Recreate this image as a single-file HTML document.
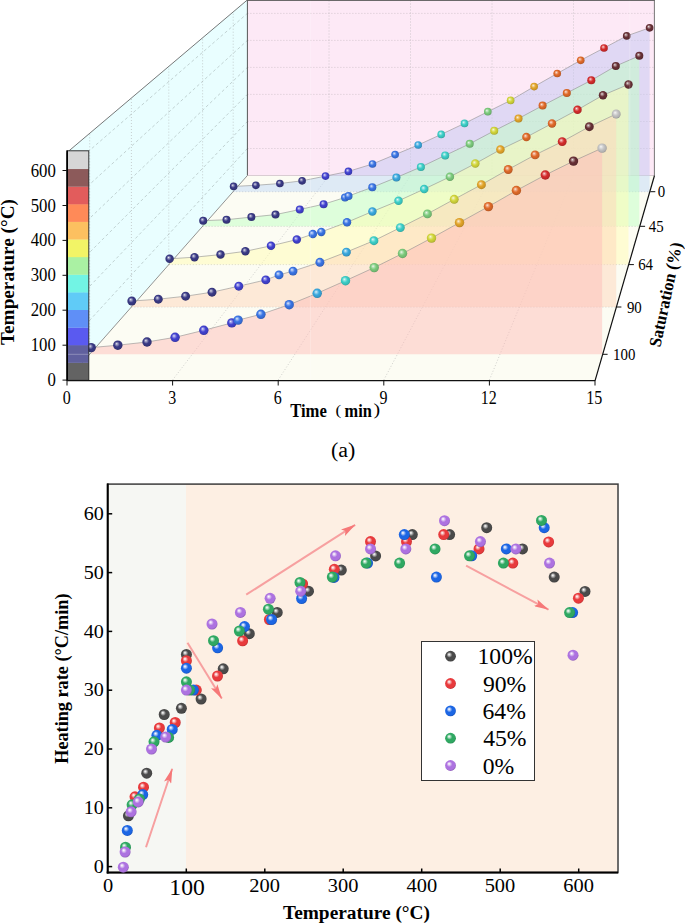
<!DOCTYPE html><html><head><meta charset="utf-8"><style>
html,body{margin:0;padding:0;background:#fff;overflow:hidden;}
svg{display:block;}
text{font-family:"Liberation Serif",serif;fill:#000;}
.b{font-weight:bold;}
</style></head><body>
<svg width="685" height="923" viewBox="0 0 685 923">
<defs>
<radialGradient id="s0" cx="0.47" cy="0.45" r="0.58" fx="0.37" fy="0.34"><stop offset="0" stop-color="#eeeeee"/><stop offset="0.18" stop-color="#a8a8a8"/><stop offset="0.5" stop-color="#505050"/><stop offset="0.82" stop-color="#484848"/><stop offset="1" stop-color="#393939"/></radialGradient>
<radialGradient id="s1" cx="0.47" cy="0.45" r="0.58" fx="0.37" fy="0.34"><stop offset="0" stop-color="#ebebf3"/><stop offset="0.18" stop-color="#9c9cc2"/><stop offset="0.5" stop-color="#3a3a86"/><stop offset="0.82" stop-color="#343478"/><stop offset="1" stop-color="#292960"/></radialGradient>
<radialGradient id="s2" cx="0.47" cy="0.45" r="0.58" fx="0.37" fy="0.34"><stop offset="0" stop-color="#ececfa"/><stop offset="0.18" stop-color="#a0a0e8"/><stop offset="0.5" stop-color="#4242d0"/><stop offset="0.82" stop-color="#3b3bbb"/><stop offset="1" stop-color="#2f2f95"/></radialGradient>
<radialGradient id="s3" cx="0.47" cy="0.45" r="0.58" fx="0.37" fy="0.34"><stop offset="0" stop-color="#ebf1fc"/><stop offset="0.18" stop-color="#9cbaf2"/><stop offset="0.5" stop-color="#3a74e4"/><stop offset="0.82" stop-color="#3468cd"/><stop offset="1" stop-color="#2953a4"/></radialGradient>
<radialGradient id="s4" cx="0.47" cy="0.45" r="0.58" fx="0.37" fy="0.34"><stop offset="0" stop-color="#ebf6fc"/><stop offset="0.18" stop-color="#9cd4ee"/><stop offset="0.5" stop-color="#3aa8de"/><stop offset="0.82" stop-color="#3497c7"/><stop offset="1" stop-color="#29789f"/></radialGradient>
<radialGradient id="s5" cx="0.47" cy="0.45" r="0.58" fx="0.37" fy="0.34"><stop offset="0" stop-color="#ecfafa"/><stop offset="0.18" stop-color="#9ee7e4"/><stop offset="0.5" stop-color="#3ccfc8"/><stop offset="0.82" stop-color="#36bab4"/><stop offset="1" stop-color="#2b9590"/></radialGradient>
<radialGradient id="s6" cx="0.47" cy="0.45" r="0.58" fx="0.37" fy="0.34"><stop offset="0" stop-color="#f2faf2"/><stop offset="0.18" stop-color="#bee5be"/><stop offset="0.5" stop-color="#7ccb7c"/><stop offset="0.82" stop-color="#6fb66f"/><stop offset="1" stop-color="#599259"/></radialGradient>
<radialGradient id="s7" cx="0.47" cy="0.45" r="0.58" fx="0.37" fy="0.34"><stop offset="0" stop-color="#fafbeb"/><stop offset="0.18" stop-color="#e8ea9c"/><stop offset="0.5" stop-color="#d2d63a"/><stop offset="0.82" stop-color="#bdc034"/><stop offset="1" stop-color="#979a29"/></radialGradient>
<radialGradient id="s8" cx="0.47" cy="0.45" r="0.58" fx="0.37" fy="0.34"><stop offset="0" stop-color="#fcf6ea"/><stop offset="0.18" stop-color="#f1d294"/><stop offset="0.5" stop-color="#e3a52a"/><stop offset="0.82" stop-color="#cc9425"/><stop offset="1" stop-color="#a3761e"/></radialGradient>
<radialGradient id="s9" cx="0.47" cy="0.45" r="0.58" fx="0.37" fy="0.34"><stop offset="0" stop-color="#fcf0ea"/><stop offset="0.18" stop-color="#f0b494"/><stop offset="0.5" stop-color="#e06a2a"/><stop offset="0.82" stop-color="#c95f25"/><stop offset="1" stop-color="#a14c1e"/></radialGradient>
<radialGradient id="s10" cx="0.47" cy="0.45" r="0.58" fx="0.37" fy="0.34"><stop offset="0" stop-color="#fbeaea"/><stop offset="0.18" stop-color="#ea9696"/><stop offset="0.5" stop-color="#d42c2c"/><stop offset="0.82" stop-color="#be2727"/><stop offset="1" stop-color="#981f1f"/></radialGradient>
<radialGradient id="s11" cx="0.47" cy="0.45" r="0.58" fx="0.37" fy="0.34"><stop offset="0" stop-color="#f0eaeb"/><stop offset="0.18" stop-color="#b4989a"/><stop offset="0.5" stop-color="#683036"/><stop offset="0.82" stop-color="#5d2b30"/><stop offset="1" stop-color="#4a2226"/></radialGradient>
<radialGradient id="s12" cx="0.47" cy="0.45" r="0.58" fx="0.37" fy="0.34"><stop offset="0" stop-color="#f9f9f9"/><stop offset="0.18" stop-color="#e2e2e2"/><stop offset="0.5" stop-color="#c4c4c4"/><stop offset="0.82" stop-color="#b0b0b0"/><stop offset="1" stop-color="#8d8d8d"/></radialGradient>
<radialGradient id="bk" cx="0.46" cy="0.44" r="0.58" fx="0.36" fy="0.33"><stop offset="0" stop-color="#ffffff"/><stop offset="0.12" stop-color="#dbdbdb"/><stop offset="0.45" stop-color="#4a4a4a"/><stop offset="0.8" stop-color="#4a4a4a"/><stop offset="1" stop-color="#3b3b3b"/></radialGradient>
<radialGradient id="br" cx="0.46" cy="0.44" r="0.58" fx="0.36" fy="0.33"><stop offset="0" stop-color="#ffffff"/><stop offset="0.12" stop-color="#fad8d8"/><stop offset="0.45" stop-color="#e83a3c"/><stop offset="0.8" stop-color="#e83a3c"/><stop offset="1" stop-color="#b92e30"/></radialGradient>
<radialGradient id="bb" cx="0.46" cy="0.44" r="0.58" fx="0.36" fy="0.33"><stop offset="0" stop-color="#ffffff"/><stop offset="0.12" stop-color="#d2e0fa"/><stop offset="0.45" stop-color="#1c66e4"/><stop offset="0.8" stop-color="#1c66e4"/><stop offset="1" stop-color="#1651b6"/></radialGradient>
<radialGradient id="bg" cx="0.46" cy="0.44" r="0.58" fx="0.36" fy="0.33"><stop offset="0" stop-color="#ffffff"/><stop offset="0.12" stop-color="#d5eee0"/><stop offset="0.45" stop-color="#2fa862"/><stop offset="0.8" stop-color="#2fa862"/><stop offset="1" stop-color="#25864e"/></radialGradient>
<radialGradient id="bp" cx="0.46" cy="0.44" r="0.58" fx="0.36" fy="0.33"><stop offset="0" stop-color="#ffffff"/><stop offset="0.12" stop-color="#efe3f9"/><stop offset="0.45" stop-color="#ad72e0"/><stop offset="0.8" stop-color="#ad72e0"/><stop offset="1" stop-color="#8a5bb3"/></radialGradient>
<marker id="ah" viewBox="0 0 15 7.6" refX="14.6" refY="3.8" markerWidth="7.5" markerHeight="3.8" orient="auto" markerUnits="strokeWidth"><path d="M0,0 L15,3.8 L0,7.6 L3,3.8 Z" fill="#f67878"/></marker>
<filter id="sb" x="-30%" y="-30%" width="160%" height="160%"><feGaussianBlur stdDeviation="0.3"/></filter>
<clipPath id="cw"><rect x="0" y="0" width="685" height="175.5"/></clipPath><clipPath id="cf"><rect x="0" y="175.5" width="685" height="300"/></clipPath>
</defs>
<polygon points="247.4,175.5 654.4,175.5 654.4,-0.1 247.4,-0.1" fill="#fde9f6"/>
<polygon points="67.0,380.0 247.4,175.5 247.4,-0.1 67.0,152.5" fill="#e9feff"/>
<polygon points="67.0,380.0 595.0,380.0 654.4,175.5 247.4,175.5" fill="#fcfcf3"/>
<line x1="247.4" y1="148.5" x2="655.1" y2="148.5" stroke="#b4aab0" stroke-width="0.55" stroke-dasharray="1,2" fill="none"/><line x1="67.0" y1="345.0" x2="247.4" y2="148.5" stroke="#a4b4b4" stroke-width="0.6" stroke-dasharray="3,2.5" fill="none"/><line x1="247.4" y1="121.5" x2="655.1" y2="121.5" stroke="#b4aab0" stroke-width="0.55" stroke-dasharray="1,2" fill="none"/><line x1="67.0" y1="310.0" x2="247.4" y2="121.5" stroke="#a4b4b4" stroke-width="0.6" stroke-dasharray="3,2.5" fill="none"/><line x1="247.4" y1="94.4" x2="655.1" y2="94.4" stroke="#b4aab0" stroke-width="0.55" stroke-dasharray="1,2" fill="none"/><line x1="67.0" y1="275.0" x2="247.4" y2="94.4" stroke="#a4b4b4" stroke-width="0.6" stroke-dasharray="3,2.5" fill="none"/><line x1="247.4" y1="67.4" x2="655.1" y2="67.4" stroke="#b4aab0" stroke-width="0.55" stroke-dasharray="1,2" fill="none"/><line x1="67.0" y1="240.0" x2="247.4" y2="67.4" stroke="#a4b4b4" stroke-width="0.6" stroke-dasharray="3,2.5" fill="none"/><line x1="247.4" y1="40.4" x2="655.1" y2="40.4" stroke="#b4aab0" stroke-width="0.55" stroke-dasharray="1,2" fill="none"/><line x1="67.0" y1="205.0" x2="247.4" y2="40.4" stroke="#a4b4b4" stroke-width="0.6" stroke-dasharray="3,2.5" fill="none"/><line x1="247.4" y1="13.4" x2="655.1" y2="13.4" stroke="#b4aab0" stroke-width="0.55" stroke-dasharray="1,2" fill="none"/><line x1="67.0" y1="170.0" x2="247.4" y2="13.4" stroke="#a4b4b4" stroke-width="0.6" stroke-dasharray="3,2.5" fill="none"/><line x1="329.0" y1="175.5" x2="329.0" y2="-0.1" stroke="#a8a8a8" stroke-width="0.55" stroke-dasharray="1,2" fill="none"/><line x1="172.6" y1="380.0" x2="329.0" y2="175.5" stroke="#a8a8a8" stroke-width="0.55" stroke-dasharray="1,2" fill="none"/><line x1="410.5" y1="175.5" x2="410.5" y2="-0.1" stroke="#a8a8a8" stroke-width="0.55" stroke-dasharray="1,2" fill="none"/><line x1="278.2" y1="380.0" x2="410.5" y2="175.5" stroke="#a8a8a8" stroke-width="0.55" stroke-dasharray="1,2" fill="none"/><line x1="492.0" y1="175.5" x2="492.0" y2="-0.1" stroke="#a8a8a8" stroke-width="0.55" stroke-dasharray="1,2" fill="none"/><line x1="383.8" y1="380.0" x2="492.0" y2="175.5" stroke="#a8a8a8" stroke-width="0.55" stroke-dasharray="1,2" fill="none"/><line x1="573.5" y1="175.5" x2="573.5" y2="-0.1" stroke="#a8a8a8" stroke-width="0.55" stroke-dasharray="1,2" fill="none"/><line x1="489.4" y1="380.0" x2="573.5" y2="175.5" stroke="#a8a8a8" stroke-width="0.55" stroke-dasharray="1,2" fill="none"/><line x1="89.7" y1="354.3" x2="89.7" y2="133.3" stroke="#a8a8a8" stroke-width="0.55" stroke-dasharray="1,2" fill="none"/><line x1="131.4" y1="307.0" x2="616.4" y2="307.0" stroke="#a8a8a8" stroke-width="0.55" stroke-dasharray="1,2" fill="none"/><line x1="131.4" y1="307.0" x2="131.4" y2="98.0" stroke="#a8a8a8" stroke-width="0.55" stroke-dasharray="1,2" fill="none"/><line x1="168.8" y1="264.6" x2="628.9" y2="264.6" stroke="#a8a8a8" stroke-width="0.55" stroke-dasharray="1,2" fill="none"/><line x1="168.8" y1="264.6" x2="168.8" y2="66.4" stroke="#a8a8a8" stroke-width="0.55" stroke-dasharray="1,2" fill="none"/><line x1="202.6" y1="226.3" x2="640.1" y2="226.3" stroke="#a8a8a8" stroke-width="0.55" stroke-dasharray="1,2" fill="none"/><line x1="202.6" y1="226.3" x2="202.6" y2="37.8" stroke="#a8a8a8" stroke-width="0.55" stroke-dasharray="1,2" fill="none"/><line x1="233.2" y1="191.7" x2="650.3" y2="191.7" stroke="#a8a8a8" stroke-width="0.55" stroke-dasharray="1,2" fill="none"/><line x1="233.2" y1="191.7" x2="233.2" y2="11.9" stroke="#a8a8a8" stroke-width="0.55" stroke-dasharray="1,2" fill="none"/>
<polyline points="67.0,380.0 67.0,152.5 247.4,-0.1 654.4,-0.1 654.4,175.5" fill="none" stroke="#555" stroke-width="0.8"/>
<line x1="247.4" y1="175.5" x2="247.4" y2="-0.1" stroke="#555" stroke-width="1"/>
<line x1="247.4" y1="175.5" x2="654.4" y2="175.5" stroke="#c9b9c2" stroke-width="0.7"/>
<line x1="247.4" y1="175.5" x2="67.0" y2="380.0" stroke="#666" stroke-width="0.7"/>
<polygon points="233.6,186.4 255.9,185.3 279.9,183.5 302.1,180.8 325.5,176.1 348.4,171.4 372.5,164.0 395.1,154.6 418.2,145.0 441.2,134.4 464.5,123.4 487.8,111.7 510.6,100.4 534.1,86.6 557.2,73.5 580.7,60.3 604.0,48.0 626.7,35.9 649.6,27.8 649.6,191.7 233.6,191.7" fill="rgba(195,199,242,0.5)" clip-path="url(#cw)"/>
<polygon points="233.6,186.4 255.9,185.3 279.9,183.5 302.1,180.8 325.5,176.1 348.4,171.4 372.5,164.0 395.1,154.6 418.2,145.0 441.2,134.4 464.5,123.4 487.8,111.7 510.6,100.4 534.1,86.6 557.2,73.5 580.7,60.3 604.0,48.0 626.7,35.9 649.6,27.8 649.6,191.7 233.6,191.7" fill="rgba(192,216,247,0.5)" clip-path="url(#cf)"/>
<polyline points="233.6,186.4 255.9,185.3 279.9,183.5 302.1,180.8 325.5,176.1 348.4,171.4 372.5,164.0 395.1,154.6 418.2,145.0 441.2,134.4 464.5,123.4 487.8,111.7 510.6,100.4 534.1,86.6 557.2,73.5 580.7,60.3 604.0,48.0 626.7,35.9 649.6,27.8" fill="none" stroke="#8e8e8e" stroke-width="0.6"/>
<circle cx="233.6" cy="186.4" r="3.83" fill="url(#s1)" filter="url(#sb)"/>
<circle cx="255.9" cy="185.3" r="3.83" fill="url(#s1)" filter="url(#sb)"/>
<circle cx="279.9" cy="183.5" r="3.83" fill="url(#s1)" filter="url(#sb)"/>
<circle cx="302.1" cy="180.8" r="3.83" fill="url(#s1)" filter="url(#sb)"/>
<circle cx="325.5" cy="176.1" r="3.83" fill="url(#s2)" filter="url(#sb)"/>
<circle cx="348.4" cy="171.4" r="3.83" fill="url(#s2)" filter="url(#sb)"/>
<circle cx="372.5" cy="164.0" r="3.83" fill="url(#s3)" filter="url(#sb)"/>
<circle cx="395.1" cy="154.6" r="3.83" fill="url(#s3)" filter="url(#sb)"/>
<circle cx="418.2" cy="145.0" r="3.83" fill="url(#s4)" filter="url(#sb)"/>
<circle cx="441.2" cy="134.4" r="3.83" fill="url(#s5)" filter="url(#sb)"/>
<circle cx="464.5" cy="123.4" r="3.83" fill="url(#s5)" filter="url(#sb)"/>
<circle cx="487.8" cy="111.7" r="3.83" fill="url(#s6)" filter="url(#sb)"/>
<circle cx="510.6" cy="100.4" r="3.83" fill="url(#s7)" filter="url(#sb)"/>
<circle cx="534.1" cy="86.6" r="3.83" fill="url(#s8)" filter="url(#sb)"/>
<circle cx="557.2" cy="73.5" r="3.83" fill="url(#s9)" filter="url(#sb)"/>
<circle cx="580.7" cy="60.3" r="3.83" fill="url(#s9)" filter="url(#sb)"/>
<circle cx="604.0" cy="48.0" r="3.83" fill="url(#s10)" filter="url(#sb)"/>
<circle cx="626.7" cy="35.9" r="3.83" fill="url(#s11)" filter="url(#sb)"/>
<circle cx="649.6" cy="27.8" r="3.83" fill="url(#s11)" filter="url(#sb)"/>
<polygon points="203.2,220.7 226.5,219.7 251.4,217.1 275.5,214.6 299.8,209.5 323.6,204.2 345.0,197.5 348.5,196.0 372.3,187.3 396.4,177.5 420.9,167.0 445.2,155.4 469.7,143.8 494.2,130.8 518.5,118.5 542.6,105.6 566.8,93.0 591.3,80.3 615.8,66.0 639.3,55.8 639.3,226.3 203.2,226.3" fill="rgba(192,255,196,0.5)"/>
<polyline points="203.2,220.7 226.5,219.7 251.4,217.1 275.5,214.6 299.8,209.5 323.6,204.2 345.0,197.5 348.5,196.0 372.3,187.3 396.4,177.5 420.9,167.0 445.2,155.4 469.7,143.8 494.2,130.8 518.5,118.5 542.6,105.6 566.8,93.0 591.3,80.3 615.8,66.0 639.3,55.8" fill="none" stroke="#8e8e8e" stroke-width="0.6"/>
<circle cx="203.2" cy="220.7" r="4.02" fill="url(#s1)" filter="url(#sb)"/>
<circle cx="226.5" cy="219.7" r="4.02" fill="url(#s1)" filter="url(#sb)"/>
<circle cx="251.4" cy="217.1" r="4.02" fill="url(#s1)" filter="url(#sb)"/>
<circle cx="275.5" cy="214.6" r="4.02" fill="url(#s1)" filter="url(#sb)"/>
<circle cx="299.8" cy="209.5" r="4.02" fill="url(#s2)" filter="url(#sb)"/>
<circle cx="323.6" cy="204.2" r="4.02" fill="url(#s2)" filter="url(#sb)"/>
<circle cx="345.0" cy="197.5" r="4.02" fill="url(#s3)" filter="url(#sb)"/>
<circle cx="348.5" cy="196.0" r="4.02" fill="url(#s3)" filter="url(#sb)"/>
<circle cx="372.3" cy="187.3" r="4.02" fill="url(#s3)" filter="url(#sb)"/>
<circle cx="396.4" cy="177.5" r="4.02" fill="url(#s4)" filter="url(#sb)"/>
<circle cx="420.9" cy="167.0" r="4.02" fill="url(#s5)" filter="url(#sb)"/>
<circle cx="445.2" cy="155.4" r="4.02" fill="url(#s5)" filter="url(#sb)"/>
<circle cx="469.7" cy="143.8" r="4.02" fill="url(#s6)" filter="url(#sb)"/>
<circle cx="494.2" cy="130.8" r="4.02" fill="url(#s7)" filter="url(#sb)"/>
<circle cx="518.5" cy="118.5" r="4.02" fill="url(#s8)" filter="url(#sb)"/>
<circle cx="542.6" cy="105.6" r="4.02" fill="url(#s9)" filter="url(#sb)"/>
<circle cx="566.8" cy="93.0" r="4.02" fill="url(#s9)" filter="url(#sb)"/>
<circle cx="591.3" cy="80.3" r="4.02" fill="url(#s10)" filter="url(#sb)"/>
<circle cx="615.8" cy="66.0" r="4.02" fill="url(#s11)" filter="url(#sb)"/>
<circle cx="639.3" cy="55.8" r="4.02" fill="url(#s11)" filter="url(#sb)"/>
<polygon points="169.6,258.8 194.5,257.2 220.5,254.6 245.4,251.3 271.0,245.8 296.8,239.6 312.8,234.1 321.3,231.9 347.0,222.3 372.4,211.5 398.5,200.8 424.2,189.1 449.9,176.8 475.3,163.6 500.4,149.6 526.4,137.1 552.0,123.5 577.5,109.8 603.0,95.2 628.5,84.4 628.5,264.6 169.6,264.6" fill="rgba(255,252,180,0.5)"/>
<polyline points="169.6,258.8 194.5,257.2 220.5,254.6 245.4,251.3 271.0,245.8 296.8,239.6 312.8,234.1 321.3,231.9 347.0,222.3 372.4,211.5 398.5,200.8 424.2,189.1 449.9,176.8 475.3,163.6 500.4,149.6 526.4,137.1 552.0,123.5 577.5,109.8 603.0,95.2 628.5,84.4" fill="none" stroke="#8e8e8e" stroke-width="0.6"/>
<circle cx="169.6" cy="258.8" r="4.23" fill="url(#s1)" filter="url(#sb)"/>
<circle cx="194.5" cy="257.2" r="4.23" fill="url(#s1)" filter="url(#sb)"/>
<circle cx="220.5" cy="254.6" r="4.23" fill="url(#s1)" filter="url(#sb)"/>
<circle cx="245.4" cy="251.3" r="4.23" fill="url(#s1)" filter="url(#sb)"/>
<circle cx="271.0" cy="245.8" r="4.23" fill="url(#s2)" filter="url(#sb)"/>
<circle cx="296.8" cy="239.6" r="4.23" fill="url(#s2)" filter="url(#sb)"/>
<circle cx="312.8" cy="234.1" r="4.23" fill="url(#s3)" filter="url(#sb)"/>
<circle cx="321.3" cy="231.9" r="4.23" fill="url(#s3)" filter="url(#sb)"/>
<circle cx="347.0" cy="222.3" r="4.23" fill="url(#s3)" filter="url(#sb)"/>
<circle cx="372.4" cy="211.5" r="4.23" fill="url(#s4)" filter="url(#sb)"/>
<circle cx="398.5" cy="200.8" r="4.23" fill="url(#s5)" filter="url(#sb)"/>
<circle cx="424.2" cy="189.1" r="4.23" fill="url(#s5)" filter="url(#sb)"/>
<circle cx="449.9" cy="176.8" r="4.23" fill="url(#s6)" filter="url(#sb)"/>
<circle cx="475.3" cy="163.6" r="4.23" fill="url(#s7)" filter="url(#sb)"/>
<circle cx="500.4" cy="149.6" r="4.23" fill="url(#s8)" filter="url(#sb)"/>
<circle cx="526.4" cy="137.1" r="4.23" fill="url(#s9)" filter="url(#sb)"/>
<circle cx="552.0" cy="123.5" r="4.23" fill="url(#s9)" filter="url(#sb)"/>
<circle cx="577.5" cy="109.8" r="4.23" fill="url(#s10)" filter="url(#sb)"/>
<circle cx="603.0" cy="95.2" r="4.23" fill="url(#s11)" filter="url(#sb)"/>
<circle cx="628.5" cy="84.4" r="4.23" fill="url(#s11)" filter="url(#sb)"/>
<polygon points="131.8,301.0 158.3,299.2 185.6,296.2 212.0,292.2 238.8,286.2 265.8,279.9 279.0,274.9 293.0,271.1 319.9,262.3 346.4,252.1 373.9,240.7 400.3,227.6 427.4,213.9 454.2,199.3 481.4,184.7 508.2,169.5 535.1,154.9 562.2,141.6 589.3,126.7 616.2,114.0 616.2,307.0 131.8,307.0" fill="rgba(254,214,187,0.5)"/>
<polyline points="131.8,301.0 158.3,299.2 185.6,296.2 212.0,292.2 238.8,286.2 265.8,279.9 279.0,274.9 293.0,271.1 319.9,262.3 346.4,252.1 373.9,240.7 400.3,227.6 427.4,213.9 454.2,199.3 481.4,184.7 508.2,169.5 535.1,154.9 562.2,141.6 589.3,126.7 616.2,114.0" fill="none" stroke="#8e8e8e" stroke-width="0.6"/>
<circle cx="131.8" cy="301.0" r="4.46" fill="url(#s1)" filter="url(#sb)"/>
<circle cx="158.3" cy="299.2" r="4.46" fill="url(#s1)" filter="url(#sb)"/>
<circle cx="185.6" cy="296.2" r="4.46" fill="url(#s1)" filter="url(#sb)"/>
<circle cx="212.0" cy="292.2" r="4.46" fill="url(#s1)" filter="url(#sb)"/>
<circle cx="238.8" cy="286.2" r="4.46" fill="url(#s2)" filter="url(#sb)"/>
<circle cx="265.8" cy="279.9" r="4.46" fill="url(#s2)" filter="url(#sb)"/>
<circle cx="279.0" cy="274.9" r="4.46" fill="url(#s3)" filter="url(#sb)"/>
<circle cx="293.0" cy="271.1" r="4.46" fill="url(#s3)" filter="url(#sb)"/>
<circle cx="319.9" cy="262.3" r="4.46" fill="url(#s3)" filter="url(#sb)"/>
<circle cx="346.4" cy="252.1" r="4.46" fill="url(#s4)" filter="url(#sb)"/>
<circle cx="373.9" cy="240.7" r="4.46" fill="url(#s5)" filter="url(#sb)"/>
<circle cx="400.3" cy="227.6" r="4.46" fill="url(#s5)" filter="url(#sb)"/>
<circle cx="427.4" cy="213.9" r="4.46" fill="url(#s6)" filter="url(#sb)"/>
<circle cx="454.2" cy="199.3" r="4.46" fill="url(#s7)" filter="url(#sb)"/>
<circle cx="481.4" cy="184.7" r="4.46" fill="url(#s8)" filter="url(#sb)"/>
<circle cx="508.2" cy="169.5" r="4.46" fill="url(#s9)" filter="url(#sb)"/>
<circle cx="535.1" cy="154.9" r="4.46" fill="url(#s9)" filter="url(#sb)"/>
<circle cx="562.2" cy="141.6" r="4.46" fill="url(#s10)" filter="url(#sb)"/>
<circle cx="589.3" cy="126.7" r="4.46" fill="url(#s11)" filter="url(#sb)"/>
<circle cx="616.2" cy="114.0" r="4.46" fill="url(#s12)" filter="url(#sb)"/>
<polygon points="91.2,347.6 117.8,345.2 147.0,342.0 175.1,337.3 203.8,330.3 231.8,322.9 238.1,320.1 260.9,314.3 289.2,304.7 317.2,293.3 345.5,280.7 374.2,267.6 402.5,253.5 431.5,238.1 459.5,222.6 488.4,206.6 516.4,190.5 545.3,175.0 573.5,161.1 602.1,148.1 602.1,354.3 91.2,354.3" fill="rgba(254,190,185,0.5)"/>
<polyline points="91.2,347.6 117.8,345.2 147.0,342.0 175.1,337.3 203.8,330.3 231.8,322.9 238.1,320.1 260.9,314.3 289.2,304.7 317.2,293.3 345.5,280.7 374.2,267.6 402.5,253.5 431.5,238.1 459.5,222.6 488.4,206.6 516.4,190.5 545.3,175.0 573.5,161.1 602.1,148.1" fill="none" stroke="#8e8e8e" stroke-width="0.6"/>
<circle cx="91.2" cy="347.6" r="4.71" fill="url(#s1)" filter="url(#sb)"/>
<circle cx="117.8" cy="345.2" r="4.71" fill="url(#s1)" filter="url(#sb)"/>
<circle cx="147.0" cy="342.0" r="4.71" fill="url(#s1)" filter="url(#sb)"/>
<circle cx="175.1" cy="337.3" r="4.71" fill="url(#s2)" filter="url(#sb)"/>
<circle cx="203.8" cy="330.3" r="4.71" fill="url(#s2)" filter="url(#sb)"/>
<circle cx="231.8" cy="322.9" r="4.71" fill="url(#s2)" filter="url(#sb)"/>
<circle cx="238.1" cy="320.1" r="4.71" fill="url(#s3)" filter="url(#sb)"/>
<circle cx="260.9" cy="314.3" r="4.71" fill="url(#s3)" filter="url(#sb)"/>
<circle cx="289.2" cy="304.7" r="4.71" fill="url(#s3)" filter="url(#sb)"/>
<circle cx="317.2" cy="293.3" r="4.71" fill="url(#s4)" filter="url(#sb)"/>
<circle cx="345.5" cy="280.7" r="4.71" fill="url(#s5)" filter="url(#sb)"/>
<circle cx="374.2" cy="267.6" r="4.71" fill="url(#s6)" filter="url(#sb)"/>
<circle cx="402.5" cy="253.5" r="4.71" fill="url(#s6)" filter="url(#sb)"/>
<circle cx="431.5" cy="238.1" r="4.71" fill="url(#s7)" filter="url(#sb)"/>
<circle cx="459.5" cy="222.6" r="4.71" fill="url(#s8)" filter="url(#sb)"/>
<circle cx="488.4" cy="206.6" r="4.71" fill="url(#s9)" filter="url(#sb)"/>
<circle cx="516.4" cy="190.5" r="4.71" fill="url(#s9)" filter="url(#sb)"/>
<circle cx="545.3" cy="175.0" r="4.71" fill="url(#s10)" filter="url(#sb)"/>
<circle cx="573.5" cy="161.1" r="4.71" fill="url(#s11)" filter="url(#sb)"/>
<circle cx="602.1" cy="148.1" r="4.71" fill="url(#s12)" filter="url(#sb)"/>
<line x1="310.4" y1="0" x2="310.4" y2="380" stroke="#ffffff" stroke-opacity="0.3" stroke-width="0.8"/>
<line x1="629.8" y1="0" x2="629.8" y2="176" stroke="#ffffff" stroke-opacity="0.3" stroke-width="0.8"/>
<line x1="247.5" y1="0.45" x2="654.6" y2="0.45" stroke="#5a5a5a" stroke-width="0.9"/>
<rect x="67.0" y="362.68" width="21.8" height="17.82" fill="#636363"/>
<rect x="67.0" y="345.06" width="21.8" height="17.82" fill="#60609e"/>
<rect x="67.0" y="327.44" width="21.8" height="17.82" fill="#5a5af0"/>
<rect x="67.0" y="309.82" width="21.8" height="17.82" fill="#5f8ff7"/>
<rect x="67.0" y="292.20" width="21.8" height="17.82" fill="#60cbf7"/>
<rect x="67.0" y="274.58" width="21.8" height="17.82" fill="#72f4e4"/>
<rect x="67.0" y="256.96" width="21.8" height="17.82" fill="#aaf1a3"/>
<rect x="67.0" y="239.34" width="21.8" height="17.82" fill="#f2f466"/>
<rect x="67.0" y="221.72" width="21.8" height="17.82" fill="#fcc060"/>
<rect x="67.0" y="204.10" width="21.8" height="17.82" fill="#ff8a58"/>
<rect x="67.0" y="186.48" width="21.8" height="17.82" fill="#e25c5c"/>
<rect x="67.0" y="168.86" width="21.8" height="17.82" fill="#8c5a5a"/>
<rect x="67.0" y="150.80" width="21.8" height="18.26" fill="#d6d6d6"/>
<rect x="67.0" y="150.8" width="21.8" height="229.5" fill="none" stroke="#222" stroke-width="0.9"/>
<line x1="67.5" y1="354.3" x2="88.5" y2="354.3" stroke="#ffffff" stroke-opacity="0.35" stroke-width="0.8"/>
<line x1="67.2" y1="150.5" x2="67.2" y2="381" stroke="#000" stroke-width="1.6"/>
<line x1="62.5" y1="380.1" x2="67" y2="380.1" stroke="#111" stroke-width="1"/>
<text transform="translate(47.40,386.20) scale(0.910,1)" font-size="18.4">0</text>
<line x1="62.5" y1="345.2" x2="67" y2="345.2" stroke="#111" stroke-width="1"/>
<text transform="translate(30.65,351.27) scale(0.910,1)" font-size="18.4">100</text>
<line x1="62.5" y1="310.2" x2="67" y2="310.2" stroke="#111" stroke-width="1"/>
<text transform="translate(30.65,316.34) scale(0.910,1)" font-size="18.4">200</text>
<line x1="62.5" y1="275.3" x2="67" y2="275.3" stroke="#111" stroke-width="1"/>
<text transform="translate(30.65,281.41) scale(0.910,1)" font-size="18.4">300</text>
<line x1="62.5" y1="240.4" x2="67" y2="240.4" stroke="#111" stroke-width="1"/>
<text transform="translate(30.65,246.48) scale(0.910,1)" font-size="18.4">400</text>
<line x1="62.5" y1="205.5" x2="67" y2="205.5" stroke="#111" stroke-width="1"/>
<text transform="translate(30.65,211.55) scale(0.910,1)" font-size="18.4">500</text>
<line x1="62.5" y1="170.5" x2="67" y2="170.5" stroke="#111" stroke-width="1"/>
<text transform="translate(30.65,176.62) scale(0.910,1)" font-size="18.4">600</text>
<text transform="translate(13.90,344.98) rotate(-90) scale(1.040,1)" font-size="18.5" class="b">Temperature (°C)</text>
<line x1="67" y1="380.6" x2="595" y2="380.6" stroke="#111" stroke-width="1.2"/>
<line x1="67.0" y1="380.6" x2="67.0" y2="385.5" stroke="#111" stroke-width="1"/>
<text transform="translate(62.70,403.80) scale(0.880,1)" font-size="18.2">0</text>
<line x1="172.6" y1="380.6" x2="172.6" y2="385.5" stroke="#111" stroke-width="1"/>
<text transform="translate(168.22,403.80) scale(0.880,1)" font-size="18.2">3</text>
<line x1="278.2" y1="380.6" x2="278.2" y2="385.5" stroke="#111" stroke-width="1"/>
<text transform="translate(273.78,403.80) scale(0.880,1)" font-size="18.2">6</text>
<line x1="383.8" y1="380.6" x2="383.8" y2="385.5" stroke="#111" stroke-width="1"/>
<text transform="translate(379.58,403.80) scale(0.880,1)" font-size="18.2">9</text>
<line x1="489.4" y1="380.6" x2="489.4" y2="385.5" stroke="#111" stroke-width="1"/>
<text transform="translate(480.81,403.80) scale(0.880,1)" font-size="18.2">12</text>
<line x1="595.0" y1="380.6" x2="595.0" y2="385.5" stroke="#111" stroke-width="1"/>
<text transform="translate(586.29,403.80) scale(0.880,1)" font-size="18.2">15</text>
<text transform="translate(290.15,417.00) scale(0.900,1)" font-size="18.5" class="b">Time</text>
<text transform="translate(344.59,417.00) scale(0.870,1)" font-size="18.8" class="b">min</text>
<text transform="translate(335.42,415.00) scale(1.150,1)" font-size="15.0">(</text>
<text transform="translate(373.60,414.60) scale(1.150,1)" font-size="17.3">)</text>
<line x1="595" y1="380.8" x2="654.5" y2="175.5" stroke="#111" stroke-width="1.2"/>
<line x1="602.6" y1="354.3" x2="607.6" y2="354.3" stroke="#111" stroke-width="1"/>
<text transform="translate(613.12,359.97) scale(0.860,1)" font-size="17.3">100</text>
<line x1="616.4" y1="307.0" x2="621.4" y2="307.0" stroke="#111" stroke-width="1"/>
<text transform="translate(626.90,312.70) scale(0.860,1)" font-size="17.3">90</text>
<line x1="628.9" y1="264.6" x2="633.9" y2="264.6" stroke="#111" stroke-width="1"/>
<text transform="translate(638.13,270.30) scale(0.860,1)" font-size="17.3">64</text>
<line x1="640.1" y1="226.3" x2="645.1" y2="226.3" stroke="#111" stroke-width="1"/>
<text transform="translate(648.74,232.04) scale(0.860,1)" font-size="17.3">45</text>
<line x1="650.3" y1="191.7" x2="655.3" y2="191.7" stroke="#111" stroke-width="1"/>
<text transform="translate(657.63,197.36) scale(0.860,1)" font-size="17.3">0</text>
<text transform="translate(660.32,347.73) rotate(-78) scale(0.950,1)" font-size="17.3" class="b">Saturation (%)</text>
<text transform="translate(331.01,456.70) scale(1.030,1)" font-size="21.3">(a)</text>
<rect x="107.7" y="484.0" width="78.3" height="388.5" fill="#f6f7f3"/>
<rect x="186" y="484.0" width="431.5" height="388.5" fill="#fdefe3"/>
<rect x="107.7" y="484.1" width="510.3" height="388.5" fill="none" stroke="#3c3c3c" stroke-width="1.5"/>
<line x1="107.7" y1="483.5" x2="107.7" y2="873.5" stroke="#000" stroke-width="2"/>
<line x1="106.7" y1="872.5" x2="618.0" y2="872.5" stroke="#000" stroke-width="2"/>
<line x1="107.7" y1="866.6" x2="112.2" y2="866.6" stroke="#000" stroke-width="1.5"/>
<text transform="translate(93.84,872.80) scale(1.060,1)" font-size="19.0">0</text>
<line x1="107.7" y1="807.8" x2="112.2" y2="807.8" stroke="#000" stroke-width="1.5"/>
<text transform="translate(83.77,814.00) scale(1.060,1)" font-size="19.0">10</text>
<line x1="107.7" y1="749.0" x2="112.2" y2="749.0" stroke="#000" stroke-width="1.5"/>
<text transform="translate(83.77,755.20) scale(1.060,1)" font-size="19.0">20</text>
<line x1="107.7" y1="690.2" x2="112.2" y2="690.2" stroke="#000" stroke-width="1.5"/>
<text transform="translate(83.77,696.40) scale(1.060,1)" font-size="19.0">30</text>
<line x1="107.7" y1="631.4" x2="112.2" y2="631.4" stroke="#000" stroke-width="1.5"/>
<text transform="translate(83.77,637.60) scale(1.060,1)" font-size="19.0">40</text>
<line x1="107.7" y1="572.6" x2="112.2" y2="572.6" stroke="#000" stroke-width="1.5"/>
<text transform="translate(83.77,578.80) scale(1.060,1)" font-size="19.0">50</text>
<line x1="107.7" y1="513.8" x2="112.2" y2="513.8" stroke="#000" stroke-width="1.5"/>
<text transform="translate(83.77,520.00) scale(1.060,1)" font-size="19.0">60</text>
<line x1="186.3" y1="872.5" x2="186.3" y2="868.5" stroke="#000" stroke-width="1.5"/>
<text transform="translate(169.34,895.00) scale(1.030,1)" font-size="23.0">100</text>
<line x1="264.8" y1="872.5" x2="264.8" y2="868.5" stroke="#000" stroke-width="1.5"/>
<text transform="translate(249.37,891.80) scale(1.060,1)" font-size="19.3">200</text>
<line x1="343.2" y1="872.5" x2="343.2" y2="868.5" stroke="#000" stroke-width="1.5"/>
<text transform="translate(327.79,891.80) scale(1.060,1)" font-size="19.3">300</text>
<line x1="421.7" y1="872.5" x2="421.7" y2="868.5" stroke="#000" stroke-width="1.5"/>
<text transform="translate(406.58,891.80) scale(1.060,1)" font-size="19.3">400</text>
<line x1="500.2" y1="872.5" x2="500.2" y2="868.5" stroke="#000" stroke-width="1.5"/>
<text transform="translate(484.65,891.80) scale(1.060,1)" font-size="19.3">500</text>
<line x1="578.7" y1="872.5" x2="578.7" y2="868.5" stroke="#000" stroke-width="1.5"/>
<text transform="translate(563.29,891.80) scale(1.060,1)" font-size="19.3">600</text>
<text transform="translate(103.09,891.80) scale(1.060,1)" font-size="19.3">0</text>
<text transform="translate(283.01,919.10) scale(1.030,1)" font-size="18.8" class="b">Temperature (°C)</text>
<text transform="translate(67.90,763.77) rotate(-90) scale(0.985,1)" font-size="18.5" class="b">Heating rate (°C/min)</text>
<line x1="146" y1="847.2" x2="172.2" y2="768.8" stroke="#f7a0a0" stroke-width="2" marker-end="url(#ah)"/>
<line x1="187.5" y1="642.8" x2="221.8" y2="698.6" stroke="#f7a0a0" stroke-width="2" marker-end="url(#ah)"/>
<line x1="246.2" y1="594.7" x2="355.2" y2="524.8" stroke="#f7a0a0" stroke-width="2" marker-end="url(#ah)"/>
<line x1="466.1" y1="565.7" x2="548.5" y2="609.6" stroke="#f7a0a0" stroke-width="2" marker-end="url(#ah)"/>
<circle cx="128.4" cy="815.8" r="5.5" fill="url(#bk)"/>
<circle cx="146.7" cy="773.2" r="5.5" fill="url(#bk)"/>
<circle cx="164.2" cy="714.5" r="5.5" fill="url(#bk)"/>
<circle cx="181.4" cy="708.3" r="5.5" fill="url(#bk)"/>
<circle cx="186.4" cy="654.5" r="5.5" fill="url(#bk)"/>
<circle cx="201.1" cy="699.0" r="5.5" fill="url(#bk)"/>
<circle cx="223.2" cy="668.8" r="5.5" fill="url(#bk)"/>
<circle cx="249.3" cy="633.7" r="5.5" fill="url(#bk)"/>
<circle cx="277.2" cy="612.4" r="5.5" fill="url(#bk)"/>
<circle cx="308.5" cy="591.2" r="5.5" fill="url(#bk)"/>
<circle cx="341.3" cy="570.1" r="5.5" fill="url(#bk)"/>
<circle cx="375.6" cy="555.9" r="5.5" fill="url(#bk)"/>
<circle cx="412.3" cy="534.6" r="5.5" fill="url(#bk)"/>
<circle cx="449.6" cy="534.6" r="5.5" fill="url(#bk)"/>
<circle cx="486.7" cy="527.7" r="5.5" fill="url(#bk)"/>
<circle cx="522.5" cy="548.9" r="5.5" fill="url(#bk)"/>
<circle cx="554.2" cy="577.1" r="5.5" fill="url(#bk)"/>
<circle cx="585.0" cy="591.4" r="5.5" fill="url(#bk)"/>
<circle cx="135.0" cy="796.8" r="5.5" fill="url(#br)"/>
<circle cx="143.5" cy="787.2" r="5.5" fill="url(#br)"/>
<circle cx="159.4" cy="728.0" r="5.5" fill="url(#br)"/>
<circle cx="175.2" cy="722.5" r="5.5" fill="url(#br)"/>
<circle cx="186.4" cy="660.7" r="5.5" fill="url(#br)"/>
<circle cx="196.3" cy="690.1" r="5.5" fill="url(#br)"/>
<circle cx="217.5" cy="676.0" r="5.5" fill="url(#br)"/>
<circle cx="242.6" cy="640.8" r="5.5" fill="url(#br)"/>
<circle cx="269.4" cy="619.5" r="5.5" fill="url(#br)"/>
<circle cx="302.6" cy="584.0" r="5.5" fill="url(#br)"/>
<circle cx="334.3" cy="569.3" r="5.5" fill="url(#br)"/>
<circle cx="370.5" cy="541.6" r="5.5" fill="url(#br)"/>
<circle cx="406.5" cy="541.6" r="5.5" fill="url(#br)"/>
<circle cx="443.7" cy="534.6" r="5.5" fill="url(#br)"/>
<circle cx="479.0" cy="548.9" r="5.5" fill="url(#br)"/>
<circle cx="512.8" cy="563.1" r="5.5" fill="url(#br)"/>
<circle cx="548.6" cy="541.9" r="5.5" fill="url(#br)"/>
<circle cx="578.4" cy="598.2" r="5.5" fill="url(#br)"/>
<circle cx="127.3" cy="830.4" r="5.5" fill="url(#bb)"/>
<circle cx="142.7" cy="794.6" r="5.5" fill="url(#bb)"/>
<circle cx="156.9" cy="735.3" r="5.5" fill="url(#bb)"/>
<circle cx="172.2" cy="729.4" r="5.5" fill="url(#bb)"/>
<circle cx="186.4" cy="668.2" r="5.5" fill="url(#bb)"/>
<circle cx="193.4" cy="690.1" r="5.5" fill="url(#bb)"/>
<circle cx="217.6" cy="647.8" r="5.5" fill="url(#bb)"/>
<circle cx="244.5" cy="626.6" r="5.5" fill="url(#bb)"/>
<circle cx="271.6" cy="619.5" r="5.5" fill="url(#bb)"/>
<circle cx="301.6" cy="598.5" r="5.5" fill="url(#bb)"/>
<circle cx="334.0" cy="577.4" r="5.5" fill="url(#bb)"/>
<circle cx="367.6" cy="563.1" r="5.5" fill="url(#bb)"/>
<circle cx="404.3" cy="534.6" r="5.5" fill="url(#bb)"/>
<circle cx="436.4" cy="577.1" r="5.5" fill="url(#bb)"/>
<circle cx="471.7" cy="555.8" r="5.5" fill="url(#bb)"/>
<circle cx="506.3" cy="548.9" r="5.5" fill="url(#bb)"/>
<circle cx="544.2" cy="527.7" r="5.5" fill="url(#bb)"/>
<circle cx="572.6" cy="612.6" r="5.5" fill="url(#bb)"/>
<circle cx="125.5" cy="847.2" r="5.5" fill="url(#bg)"/>
<circle cx="132.1" cy="804.8" r="5.5" fill="url(#bg)"/>
<circle cx="139.4" cy="799.0" r="5.5" fill="url(#bg)"/>
<circle cx="154.0" cy="741.8" r="5.5" fill="url(#bg)"/>
<circle cx="168.6" cy="737.4" r="5.5" fill="url(#bg)"/>
<circle cx="186.4" cy="681.8" r="5.5" fill="url(#bg)"/>
<circle cx="189.7" cy="690.1" r="5.5" fill="url(#bg)"/>
<circle cx="213.5" cy="640.7" r="5.5" fill="url(#bg)"/>
<circle cx="239.4" cy="631.0" r="5.5" fill="url(#bg)"/>
<circle cx="268.4" cy="609.2" r="5.5" fill="url(#bg)"/>
<circle cx="300.0" cy="582.5" r="5.5" fill="url(#bg)"/>
<circle cx="332.3" cy="577.1" r="5.5" fill="url(#bg)"/>
<circle cx="366.1" cy="563.1" r="5.5" fill="url(#bg)"/>
<circle cx="399.6" cy="563.1" r="5.5" fill="url(#bg)"/>
<circle cx="435.0" cy="548.9" r="5.5" fill="url(#bg)"/>
<circle cx="469.5" cy="555.8" r="5.5" fill="url(#bg)"/>
<circle cx="503.4" cy="563.1" r="5.5" fill="url(#bg)"/>
<circle cx="541.5" cy="520.4" r="5.5" fill="url(#bg)"/>
<circle cx="569.6" cy="612.6" r="5.5" fill="url(#bg)"/>
<circle cx="123.3" cy="867.2" r="5.5" fill="url(#bp)"/>
<circle cx="125.1" cy="852.0" r="5.5" fill="url(#bp)"/>
<circle cx="131.1" cy="811.8" r="5.5" fill="url(#bp)"/>
<circle cx="138.2" cy="801.9" r="5.5" fill="url(#bp)"/>
<circle cx="151.5" cy="749.1" r="5.5" fill="url(#bp)"/>
<circle cx="165.7" cy="737.0" r="5.5" fill="url(#bp)"/>
<circle cx="186.4" cy="690.1" r="5.5" fill="url(#bp)"/>
<circle cx="212.0" cy="624.0" r="5.5" fill="url(#bp)"/>
<circle cx="240.4" cy="612.4" r="5.5" fill="url(#bp)"/>
<circle cx="270.1" cy="598.3" r="5.5" fill="url(#bp)"/>
<circle cx="300.7" cy="591.2" r="5.5" fill="url(#bp)"/>
<circle cx="335.5" cy="555.8" r="5.5" fill="url(#bp)"/>
<circle cx="370.5" cy="548.9" r="5.5" fill="url(#bp)"/>
<circle cx="405.8" cy="548.9" r="5.5" fill="url(#bp)"/>
<circle cx="444.5" cy="520.7" r="5.5" fill="url(#bp)"/>
<circle cx="480.4" cy="541.6" r="5.5" fill="url(#bp)"/>
<circle cx="515.9" cy="548.9" r="5.5" fill="url(#bp)"/>
<circle cx="549.5" cy="563.1" r="5.5" fill="url(#bp)"/>
<circle cx="573.0" cy="655.2" r="5.5" fill="url(#bp)"/>
<rect x="421.5" y="641.5" width="113" height="139" fill="#fff" stroke="#333" stroke-width="1"/>
<circle cx="450.5" cy="656.2" r="5.4" fill="url(#bk)"/>
<text transform="translate(477.47,664.40) scale(1.030,1)" font-size="23.0">100%</text>
<circle cx="450.5" cy="683.5" r="5.4" fill="url(#br)"/>
<text transform="translate(482.89,691.73) scale(1.030,1)" font-size="23.0">90%</text>
<circle cx="450.5" cy="710.9" r="5.4" fill="url(#bb)"/>
<text transform="translate(482.53,719.06) scale(1.030,1)" font-size="23.0">64%</text>
<circle cx="450.5" cy="738.2" r="5.4" fill="url(#bg)"/>
<text transform="translate(483.13,746.39) scale(1.030,1)" font-size="23.0">45%</text>
<circle cx="450.5" cy="765.5" r="5.4" fill="url(#bp)"/>
<text transform="translate(482.65,773.72) scale(1.030,1)" font-size="23.0">0%</text>
</svg></body></html>
